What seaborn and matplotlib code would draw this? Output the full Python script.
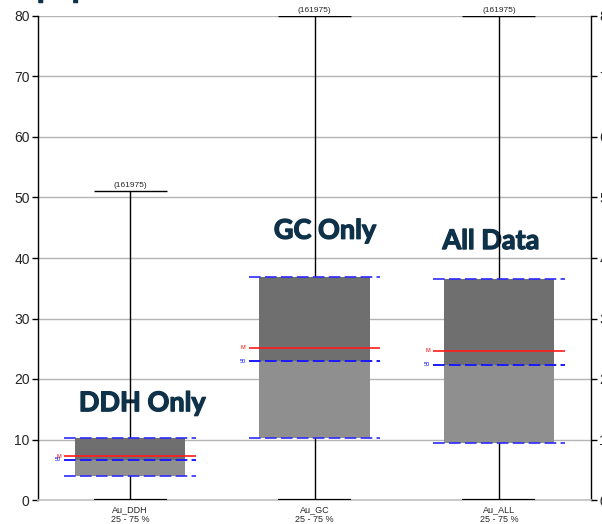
import numpy as np
import pandas as pd
import matplotlib
matplotlib.use("Agg")
import matplotlib.pyplot as plt
import matplotlib.patheffects as pe
import seaborn as sns

# Summary statistics of gold grades per data set
variables = ["Au_DDH", "Au_GC", "Au_ALL"]
counts = [161975, 161975, 161975]
minimums = [0.0, 0.0, 0.0]
maximums = [51.1, 80.0, 80.0]
quartile_1 = [3.9, 10.2, 9.4]
medians = [6.65, 22.9, 22.35]
means = [7.2, 25.15, 24.7]
quartile_3 = [10.2, 36.8, 36.45]
group_titles = ["DDH Only", "GC Only", "All Data"]
range_label = "25 - 75 %"

sns.set_theme(style="white")
plt.rcParams["font.family"] = ["Liberation Sans", "DejaVu Sans"]

df = pd.DataFrame({
    "variable": variables,
    "q1": quartile_1,
    "median": medians,
    "q3": quartile_3,
})
df["lower"] = df["median"] - df["q1"]
df["upper"] = df["q3"] - df["median"]

fig = plt.figure(figsize=(6.02, 5.24), dpi=100)
ax = fig.add_axes([38 / 602, 24 / 524, 553 / 602, 484 / 524])

pos = np.arange(len(variables))
box_w = 0.6
line_half = 0.358
cap_half = 0.198

# Two-tone boxes: lower quartile range light, upper quartile range dark
sns.barplot(data=df, x="variable", y="lower", bottom=df["q1"].values,
            color="#8f8f8f", saturation=1, width=box_w, linewidth=0,
            errorbar=None, ax=ax, zorder=2)
sns.barplot(data=df, x="variable", y="upper", bottom=df["median"].values,
            color="#6f6f6f", saturation=1, width=box_w, linewidth=0,
            errorbar=None, ax=ax, zorder=2)

# Whiskers from minimum to maximum with caps
ax.vlines(pos, minimums, maximums, color="black", lw=1.0, zorder=1.5)
ax.hlines(maximums, pos - cap_half, pos + cap_half, color="black", lw=1.0, zorder=1.5)
ax.hlines(minimums, pos - cap_half, pos + cap_half, color="black", lw=1.6, zorder=4)

# Quartile, median and mean reference lines
dash = (0, (6, 2.2))
ax.hlines(quartile_3, pos - line_half, pos + line_half, color="#2b2bff", lw=1.4,
          linestyles=dash, alpha=0.85, zorder=3)
ax.hlines(quartile_1, pos - line_half, pos + line_half, color="#2b2bff", lw=1.4,
          linestyles=dash, alpha=0.85, zorder=3)
ax.hlines(medians, pos - line_half, pos + line_half, color="#1a1aff", lw=1.4,
          linestyles=dash, zorder=3)
ax.hlines(means, pos - line_half, pos + line_half, color="#ff1a1a", lw=1.2, zorder=3.2)

for x, m, md, top, n in zip(pos, means, medians, maximums, counts):
    ax.text(x - line_half - 0.015, m, "M", color="red", fontsize=4, ha="right",
            va="center", zorder=5)
    ax.text(x - line_half - 0.015, md, "50", color="blue", fontsize=4, ha="right",
            va="center", zorder=5)
    ax.text(x, top + 0.3, f"({n})", fontsize=6, ha="center", va="bottom", zorder=5)

# Group titles, drawn heavy
title_color = "#0e3249"
heavy = [pe.withStroke(linewidth=0.9, foreground=title_color)]
title_xy = [(0.065, 16.0), (1.057, 44.5), (1.958, 42.8)]
for (tx, ty), t in zip(title_xy, group_titles):
    ax.text(tx, ty, t, fontsize=19.5, fontweight="bold", color=title_color,
            family=["Lato", "DejaVu Sans"], ha="center", va="center", zorder=1,
            path_effects=heavy)

fig.text(37 / 602, 1.0 + 2.5 / 524, "population", fontsize=22, fontweight="bold",
         color=title_color, family=["Lato", "DejaVu Sans"], ha="left",
         va="baseline", path_effects=heavy)

ax.set_xlim(-0.5, len(variables) - 0.5)
ax.set_ylim(0, 80)
ax.set_yticks(np.arange(0, 81, 10))
ax.yaxis.grid(True, color="#b4b4b4", lw=1.0, zorder=0)
ax.set_axisbelow(True)
ax.set_xticks(pos)
ax.set_xticklabels([f"{v}\n{range_label}" for v in variables], fontsize=6.5,
                   linespacing=1.0)
ax.set_xlabel("")
ax.set_ylabel("")
ax.tick_params(axis="x", length=0, pad=4)
ax.tick_params(axis="y", direction="out", length=4, width=1, color="black",
               labelsize=10, left=True, right=True, labelright=True, pad=2)

for side in ["left", "right"]:
    ax.spines[side].set_visible(True)
    ax.spines[side].set_color("black")
    ax.spines[side].set_linewidth(1.0)
ax.spines["top"].set_visible(False)
ax.spines["bottom"].set_color("#c0c0c0")
ax.spines["bottom"].set_linewidth(1.2)

fig.savefig("out.png", dpi=100)
